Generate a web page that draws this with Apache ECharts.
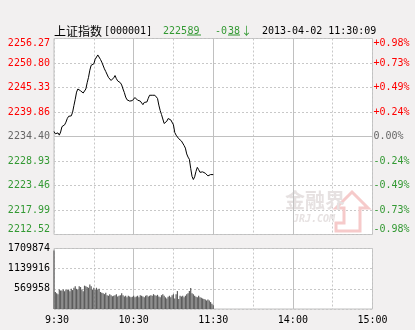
<!DOCTYPE html>
<html><head><meta charset="utf-8">
<script src="https://cdn.jsdelivr.net/npm/echarts@6/dist/echarts.min.js"></script>
<style>html,body{margin:0;padding:0;background:#f2f0f0}#c{width:415px;height:330px}</style>
</head><body><div id="c"></div>
<script>
// ---- data ----
const priceTicks = ['2212.52','2217.99','2223.46','2228.93','2234.40','2239.86','2245.33','2250.80','2256.27'];
const pctTicks = ['-0.98%','-0.73%','-0.49%','-0.24%','0.00%','+0.24%','+0.49%','+0.73%','+0.98%'];
const timeLabels = ['9:30','10:30','11:30','14:00','15:00'];
const timeTickMinutes = [0,60,120,180,240];
const prevClose = 2234.40;
const priceMin = 2212.52;
const priceMax = 2256.27;
const volMax = 1709874;
const volStep = 569958;
// price per minute from 9:30 (index 0) to 11:30 (index 120)
const price = [
2235.5,2235.0,2235.2,2235.2,2234.7,2235.4,2236.6,2236.4,2237.0,2237.6,
2238.4,2238.9,2239.0,2239.0,2239.8,2241.3,2242.7,2244.3,2245.0,2244.8,
2244.6,2244.4,2244.1,2243.8,2245.0,2246.4,2247.6,2249.2,2250.3,2250.5,
2250.6,2251.6,2252.0,2252.6,2252.4,2251.6,2251.0,2250.7,2249.5,2248.9,
2248.6,2247.6,2247.2,2246.9,2247.0,2247.5,2248.0,2247.3,2246.8,2246.6,
2246.4,2245.9,2245.0,2244.2,2243.2,2242.6,2242.6,2242.3,2242.2,2242.4,
2242.8,2243.1,2242.8,2242.5,2242.6,2242.3,2242.0,2241.5,2242.0,2241.8,
2242.1,2242.9,2243.6,2243.6,2243.6,2243.6,2243.6,2243.5,2242.9,2241.4,
2240.2,2239.3,2238.3,2237.3,2237.5,2237.8,2238.4,2238.7,2238.1,2238.0,
2237.0,2235.3,2234.7,2234.3,2233.9,2233.6,2233.4,2233.7,2232.4,2231.8,
2230.5,2229.8,2229.3,2227.3,2225.5,2224.8,2225.4,2226.6,2227.5,2227.0,
2226.4,2226.3,2226.5,2226.1,2226.2,2225.9,2225.6,2225.5,2225.9,2226.1,
2225.89];
const volume = [
1650000,
480000,445000,420000,550000,525000,525000,550000,505000,550000,535000,
550000,505000,570000,535000,600000,640000,570000,550000,640000,620000,
550000,505000,660000,640000,620000,600000,690000,640000,550000,600000,
535000,600000,550000,570000,480000,460000,445000,420000,460000,390000,
374000,419000,390000,360000,374000,390000,419000,350000,374000,390000,
445000,390000,355000,374000,330000,374000,355000,330000,345000,374000,
330000,355000,374000,330000,390000,374000,355000,330000,374000,390000,
355000,374000,390000,374000,419000,390000,374000,400000,355000,330000,
390000,419000,374000,330000,300000,345000,374000,330000,390000,419000,
300000,419000,507000,285000,374000,355000,374000,330000,374000,419000,
445000,507000,597000,445000,419000,374000,345000,330000,374000,330000,
320000,300000,285000,270000,240000,270000,240000,196000,150000,107000];

// ---- styles ----
const mono = '"DejaVu Sans Mono", monospace';
const cjk = '"Noto Sans CJK SC", sans-serif';
const RED = '#ff0000', GREEN = '#339933', GRAY = '#666666';
const gridLine = '#c8c8c8';
const dash = [2, 2];

const chart = echarts.init(document.getElementById('c'), null, {renderer: 'canvas'});
const solidV = timeTickMinutes.slice(1, 4).map(m => ({xAxis: m}));

chart.setOption({
  animation: false,
  backgroundColor: '#f2f0f0',
  grid: [
    {left: 54, top: 38.5, width: 318.5, height: 196, show: true, backgroundColor: '#fff', borderColor: '#c0c0c0', borderWidth: 1},
    {left: 54, top: 248.5, width: 318.5, height: 60.5, show: true, backgroundColor: '#fff', borderColor: '#c0c0c0', borderWidth: 1}
  ],
  xAxis: [
    {type: 'value', gridIndex: 0, min: 0, max: 240, interval: 30,
     axisLine: {show: false}, axisTick: {show: false}, axisLabel: {show: false},
     splitLine: {show: true, lineStyle: {color: gridLine, type: dash}}},
    {type: 'value', gridIndex: 1, min: 0, max: 240, interval: 30,
     axisLine: {show: false}, axisTick: {show: false},
     axisLabel: {show: true, margin: 6, fontFamily: mono, fontSize: 10, color: '#000',
       formatter: v => { const i = timeTickMinutes.indexOf(v); return i < 0 ? '' : (i === 0 ? '{f|' + timeLabels[i] + '}' : timeLabels[i]); },
       rich: {f: {fontFamily: mono, fontSize: 10, color: '#000', padding: [0, 0, 0, 6]}}},
     splitLine: {show: true, lineStyle: {color: gridLine, type: dash}}}
  ],
  yAxis: [
    {type: 'value', gridIndex: 0, min: priceMin, max: priceMax, show: false},
    {type: 'value', gridIndex: 0, min: 0, max: 8, interval: 1, position: 'left',
     axisLine: {show: false}, axisTick: {show: false},
     axisLabel: {margin: 4, fontFamily: mono, fontSize: 10,
       formatter: v => priceTicks[v],
       color: v => v > 4 ? RED : (v < 4 ? GREEN : GRAY),
       verticalAlignMaxLabel: 'top', verticalAlignMinLabel: 'bottom'},
     splitLine: {show: true, lineStyle: {color: gridLine, type: dash}}},
    {type: 'value', gridIndex: 0, min: 0, max: 8, interval: 1, position: 'right',
     axisLine: {show: false}, axisTick: {show: false},
     axisLabel: {margin: 1, fontFamily: mono, fontSize: 10,
       formatter: v => pctTicks[v],
       color: v => v > 4 ? RED : (v < 4 ? GREEN : GRAY),
       verticalAlignMaxLabel: 'top', verticalAlignMinLabel: 'bottom'},
     splitLine: {show: false}},
    {type: 'value', gridIndex: 1, min: 0, max: volMax, interval: volStep,
     axisLine: {show: false}, axisTick: {show: false},
     axisLabel: {margin: 4, fontFamily: mono, fontSize: 10, color: '#000', showMinLabel: false,
       formatter: v => v ? String(v) : ''},
     splitLine: {show: true, lineStyle: {color: gridLine, type: dash}}}
  ],
  series: [
    {type: 'line', xAxisIndex: 0, yAxisIndex: 0, data: price.map((v, i) => [i, v]),
     symbol: 'none', lineStyle: {color: '#000', width: 1}, z: 5,
     markLine: {silent: true, symbol: 'none', label: {show: false},
       lineStyle: {color: '#c0c0c0', type: 'solid', width: 1},
       data: [{yAxis: prevClose}].concat(solidV)}},
    {type: 'bar', xAxisIndex: 1, yAxisIndex: 3, data: volume.map((v, i) => [i, v]),
     barWidth: 1.2, itemStyle: {color: '#5c5c5c'}, z: 5,
     markLine: {silent: true, symbol: 'none', label: {show: false},
       lineStyle: {color: '#c0c0c0', type: 'solid', width: 1}, data: solidV}}
  ],
  graphic: [
    {type: 'text', x: 54, y: 31, style: {text: '上证指数', font: '12px ' + cjk, fill: '#000', verticalAlign: 'middle'}},
    {type: 'text', x: 104, y: 31, style: {text: '[000001]', font: '10px ' + mono, fill: '#000', verticalAlign: 'middle'}},
    {type: 'text', x: 163, y: 31, style: {text: '2225', font: '10px ' + mono, fill: GREEN, verticalAlign: 'middle'}},
    {type: 'text', x: 187.5, y: 31, style: {text: '89', font: '10px ' + mono, fill: GREEN, verticalAlign: 'middle'}},
    {type: 'rect', shape: {x: 187, y: 34.5, width: 14, height: 1}, style: {fill: GREEN}},
    {type: 'text', x: 215, y: 31, style: {text: '-0', font: '10px ' + mono, fill: GREEN, verticalAlign: 'middle'}},
    {type: 'text', x: 228, y: 31, style: {text: '38', font: '10px ' + mono, fill: GREEN, verticalAlign: 'middle'}},
    {type: 'rect', shape: {x: 228, y: 34.5, width: 12, height: 1}, style: {fill: GREEN}},
    {type: 'text', x: 241, y: 31, style: {text: '↓', font: '11px ' + cjk, fill: GREEN, verticalAlign: 'middle'}},
    {type: 'text', x: 262, y: 31, style: {text: '2013-04-02 11:30:09', font: '10px ' + mono, fill: '#000', verticalAlign: 'middle'}},
    // watermark
    {type: 'polygon', z: 1, shape: {points: [[352,192],[368,208],[360,208],[360,231],[336,231],[336,223],[344,223],[344,208],[336,208]]},
     style: {fill: 'none', stroke: '#f6caca', lineWidth: 3}},
    {type: 'text', z: 1, x: 285, y: 200, style: {text: '金融界', font: 'bold 20px ' + cjk, fill: '#e6e1e1', verticalAlign: 'middle'}},
    {type: 'text', z: 1, x: 293, y: 219, style: {text: 'JRJ.COM', font: 'italic bold 10px ' + mono, fill: '#e6e1e1', verticalAlign: 'middle'}}
  ]
});
</script></body></html>
